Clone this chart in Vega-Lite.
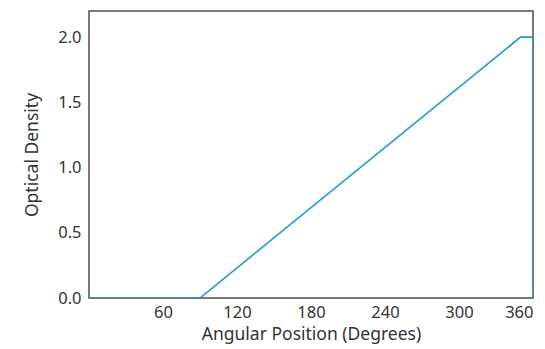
{
  "$schema": "https://vega.github.io/schema/vega-lite/v6.json",
  "width": 545,
  "height": 349,
  "autosize": {"type": "fit", "contains": "padding"},
  "padding": {"left": 23, "right": 12, "top": 11, "bottom": 6},
  "background": "white",
  "config": {
    "font": "Noto Sans",
    "view": {"stroke": "#4d4d4d", "strokeWidth": 1.5},
    "axis": {"grid": false, "domain": false, "ticks": false, "labelFont": "Noto Sans", "titleFont": "Noto Sans", "labelFontSize": 16.5, "titleFontSize": 17.5, "labelColor": "#333333", "titleColor": "#333333", "titleFontWeight": "normal"}
  },
  "data": {"values": [
    {"angle": 0, "od": 0, "i": 0},
    {"angle": 90, "od": 0, "i": 1},
    {"angle": 350, "od": 2.0, "i": 2},
    {"angle": 360, "od": 2.0, "i": 3},
    {"angle": 360, "od": 0, "i": 4}
  ]},
  "mark": {"type": "line", "color": "#1a9ad6", "strokeWidth": 1.6, "clip": true},
  "encoding": {
    "x": {"field": "angle", "type": "quantitative", "scale": {"domain": [0, 360], "nice": false, "zero": false}, "axis": {"values": [60, 120, 180, 240, 300, 360], "title": "Angular Position (Degrees)", "labelPadding": 6, "titlePadding": 5}},
    "y": {"field": "od", "type": "quantitative", "scale": {"domain": [0, 2.2], "nice": false}, "axis": {"values": [0, 0.5, 1.0, 1.5, 2.0], "format": ".1f", "title": "Optical Density", "labelPadding": 8, "titlePadding": 16}},
    "order": {"field": "i", "type": "quantitative"}
  }
}
